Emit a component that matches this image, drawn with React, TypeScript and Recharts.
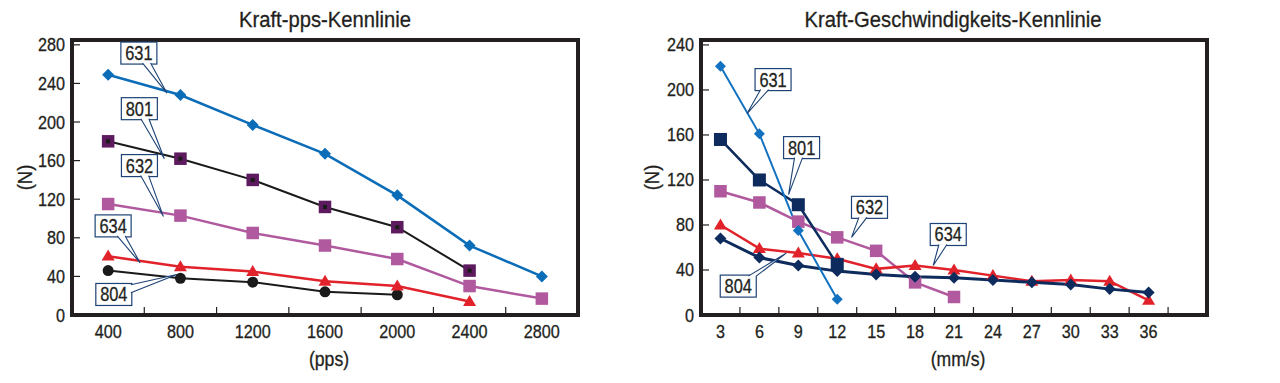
import React from 'react';
import { LineChart, Line, XAxis, YAxis, ReferenceArea, ReferenceDot } from 'recharts';

const FONT = "'Liberation Sans', Arial, sans-serif";
const INK = '#231f20';
const NAVY_BOX = '#1d4275';

// Kraft-pps-Kennlinie
const PPS = [400, 800, 1200, 1600, 2000, 2400, 2800];
const PPS_MINOR = [600, 1000, 1400, 1800, 2200, 2600];
const PPS_631 = [249, 228, 197, 167, 124, 72, 40];
const PPS_801 = [180, 162, 140, 112, 91, 46];
const PPS_632 = [115, 103, 85, 72, 58, 30, 17];
const PPS_634 = [61, 50, 45, 35, 30, 14];
const PPS_804 = [46, 38, 34, 24, 21];
const PPS_Y_TICKS = [0, 40, 80, 120, 160, 200, 240, 280];

// Kraft-Geschwindigkeits-Kennlinie
const SPEED = [3, 6, 9, 12, 15, 18, 21, 24, 27, 30, 33, 36];
const SPEED_MINOR = [4.5, 7.5, 10.5, 13.5, 16.5, 19.5, 22.5, 25.5, 28.5, 31.5, 34.5, 37.5];
const SPD_631 = [221, 161, 75, 14];
const SPD_801 = [156, 120, 98, 45];
const SPD_632 = [110, 100, 83, 69, 57, 29, 16];
const SPD_634 = [80, 59, 55, 50, 41, 44, 40, 35, 30, 31, 30, 13];
const SPD_804 = [68, 51, 44, 39, 36, 34, 33, 31, 29, 27, 23, 20];
const SPD_Y_TICKS = [0, 40, 80, 120, 160, 200, 240];

// callouts: tip in data units, box centre offset in px
const PPS_NOTES = [
  { text: '631', x: 725, y: 230, dx: -28, dy: -40 },
  { text: '801', x: 711, y: 162, dx: -25, dy: -50 },
  { text: '632', x: 706, y: 102, dx: -24, dy: -51 },
  { text: '634', x: 577, y: 54, dx: -27, dy: -37 },
  { text: '804', x: 780, y: 42, dx: -63, dy: 20 },
];
const SPD_NOTES = [
  { text: '631', x: 5.05, y: 179, dx: 26, dy: -34 },
  { text: '801', x: 8.25, y: 107, dx: 13, dy: -47 },
  { text: '632', x: 13.1, y: 69, dx: 18, dy: -30 },
  { text: '634', x: 19.4, y: 44, dx: 15, dy: -31 },
  { text: '804', x: 8.07, y: 55, dx: -48, dy: 33 },
];

const toRows = (xs: number[], series: Record<string, number[]>) =>
  xs.map((x, i) => {
    const row: any = { x };
    Object.keys(series).forEach((k) => {
      row[k] = series[k][i];
    });
    return row;
  });

const PPS_ROWS = toRows(PPS, { s631: PPS_631, s801: PPS_801, s632: PPS_632, s634: PPS_634, s804: PPS_804 });
const SPD_ROWS = toRows(SPEED, { s631: SPD_631, s801: SPD_801, s632: SPD_632, s634: SPD_634, s804: SPD_804 });

// condensed look: regular sans squeezed horizontally
const NText = ({ x, y, size, sx, anchor = 'middle', rotate = 0, children }: any) => (
  <text
    transform={`translate(${x} ${y})${rotate ? ` rotate(${rotate})` : ''} scale(${sx} 1)`}
    textAnchor={anchor}
    fontFamily={FONT}
    fontSize={size}
    fill={INK}
    stroke={INK}
    strokeWidth={0.3}
  >
    {children}
  </text>
);

// marker shapes
const ok = (p: any) => p.cx != null && p.cy != null && !isNaN(p.cx) && !isNaN(p.cy);

const diamond = (r: number, fill: string) => (p: any) =>
  ok(p) ? (
    <path key={p.index} d={`M${p.cx},${p.cy - r}L${p.cx + r},${p.cy}L${p.cx},${p.cy + r}L${p.cx - r},${p.cy}Z`} fill={fill} />
  ) : null;

const square = (s: number, fill: string, inner?: string) => (p: any) =>
  ok(p) ? (
    <g key={p.index}>
      <rect x={p.cx - s / 2} y={p.cy - s / 2} width={s} height={s} fill={fill} />
      {inner && <rect x={p.cx - 2} y={p.cy - 2} width={4} height={4} fill={inner} />}
    </g>
  ) : null;

const triangle = (w: number, h: number, fill: string) => (p: any) =>
  ok(p) ? (
    <path key={p.index} d={`M${p.cx},${p.cy - h * 0.6}L${p.cx + w / 2},${p.cy + h * 0.4}L${p.cx - w / 2},${p.cy + h * 0.4}Z`} fill={fill} />
  ) : null;

const circle = (r: number, fill: string) => (p: any) =>
  ok(p) ? <circle key={p.index} cx={p.cx} cy={p.cy} r={r} fill={fill} /> : null;

const callout = (note: any) => (p: any) => {
  const { cx, cy } = p;
  if (cx == null || cy == null) return <g />;
  const w = 36;
  const h = 22;
  const bx = cx + note.dx;
  const by = cy + note.dy;
  const vx = -note.dx;
  const vy = -note.dy;
  const tx = vx === 0 ? Infinity : w / 2 / Math.abs(vx);
  const ty = vy === 0 ? Infinity : h / 2 / Math.abs(vy);
  let b1, b2;
  if (tx < ty) {
    const ex = bx + Math.sign(vx) * (w / 2);
    const ey = Math.max(by - h / 2 + 4, Math.min(by + h / 2 - 4, by + tx * vy));
    b1 = [ex - Math.sign(vx), ey - 4];
    b2 = [ex - Math.sign(vx), ey + 4];
  } else {
    const ey = by + Math.sign(vy) * (h / 2);
    const ex = Math.max(bx - w / 2 + 4, Math.min(bx + w / 2 - 4, bx + ty * vx));
    b1 = [ex - 4, ey - Math.sign(vy)];
    b2 = [ex + 4, ey - Math.sign(vy)];
  }
  return (
    <g>
      <rect x={bx - w / 2} y={by - h / 2} width={w} height={h} fill="#fff" stroke={NAVY_BOX} strokeWidth={1.2} />
      <polygon points={`${b1[0]},${b1[1]} ${cx},${cy} ${b2[0]},${b2[1]}`} fill="#fff" />
      <polyline points={`${b1[0]},${b1[1]} ${cx},${cy} ${b2[0]},${b2[1]}`} fill="none" stroke={NAVY_BOX} strokeWidth={1.1} />
      <NText x={bx} y={by + 7} size={20} sx={0.82}>
        {note.text}
      </NText>
    </g>
  );
};

const XTick = (labels: number[]) => (p: any) => {
  const { x, y, payload } = p;
  if (labels.includes(payload.value)) {
    return (
      <NText x={x} y={y + 23} size={18} sx={0.9}>
        {payload.value}
      </NText>
    );
  }
  return <line x1={x} x2={x} y1={y} y2={y - 8} stroke={INK} strokeWidth={1.2} />;
};

const YTick = (p: any) => {
  const { x, y, payload } = p;
  return (
    <g>
      <NText x={x - 7} y={y + 6.5} size={18} sx={0.9} anchor="end">
        {payload.value}
      </NText>
      {payload.value !== 0 && <line x1={x} x2={x + 8} y1={y} y2={y} stroke={INK} strokeWidth={1.2} />}
    </g>
  );
};

type SeriesDef = { key: string; color: string; width: number; dot: any };

type PanelProps = {
  rows: any[];
  series: SeriesDef[];
  xLabels: number[];
  xMinor: number[];
  xDomain: [number, number];
  yTicks: number[];
  yDomain: [number, number];
  notes: any[];
  xTitle: string;
  yTitleX: number;
  yAxisWidth: number;
  marginRight: number;
};

const Panel = (props: PanelProps) => {
  const { rows, series, xLabels, xMinor, xDomain, yTicks, yDomain, notes, xTitle, yTitleX, yAxisWidth, marginRight } = props;
  const xTicks = [...xLabels, ...xMinor].sort((a, b) => a - b);
  return (
    <LineChart width={640} height={383} data={rows} margin={{ top: 40, right: marginRight, bottom: 15, left: 0 }}>
      <XAxis
        type="number"
        dataKey="x"
        domain={xDomain}
        ticks={xTicks}
        interval={0}
        axisLine={false}
        tickLine={false}
        tickSize={0}
        tickMargin={0}
        height={53}
        tick={XTick(xLabels)}
        label={{
          content: ({ viewBox }: any) => (
            <NText x={viewBox.x + viewBox.width / 2 + 4} y={366} size={20} sx={0.88}>
              {xTitle}
            </NText>
          ),
        }}
      />
      <YAxis
        type="number"
        domain={yDomain}
        ticks={yTicks}
        interval={0}
        axisLine={false}
        tickLine={false}
        tickSize={0}
        tickMargin={0}
        width={yAxisWidth}
        tick={YTick}
        label={{
          content: ({ viewBox }: any) => (
            <NText x={yTitleX + 7} y={viewBox.y + viewBox.height / 2} size={21} sx={0.88} rotate={-90}>
              (N)
            </NText>
          ),
        }}
      />
      {series.map((s) => (
        <Line
          key={s.key}
          dataKey={s.key}
          stroke={s.color}
          strokeWidth={s.width}
          dot={s.dot}
          activeDot={false}
          isAnimationActive={false}
        />
      ))}
      <ReferenceArea
        x1={xDomain[0]}
        x2={xDomain[1]}
        y1={yDomain[0]}
        y2={yDomain[1]}
        fill="none"
        stroke={INK}
        strokeWidth={4}
        ifOverflow="visible"
      />
      {notes.map((n) => (
        <ReferenceDot key={n.text} x={n.x} y={n.y} r={0} ifOverflow="visible" shape={callout(n)} />
      ))}
    </LineChart>
  );
};

const PPS_SERIES: SeriesDef[] = [
  { key: 's804', color: '#1a1a1a', width: 2, dot: circle(5.5, '#1a1a1a') },
  { key: 's634', color: '#e1222b', width: 2.5, dot: triangle(13, 11, '#e1222b') },
  { key: 's632', color: '#b0599e', width: 2.5, dot: square(12.5, '#b0599e') },
  { key: 's801', color: '#1a1a1a', width: 2, dot: square(12.5, '#5d1a5f', '#1a1a1a') },
  { key: 's631', color: '#0b6cb8', width: 2.5, dot: diamond(6, '#0b6cb8') },
];

const SPD_SERIES: SeriesDef[] = [
  { key: 's632', color: '#b0599e', width: 2.5, dot: square(12.5, '#b0599e') },
  { key: 's634', color: '#e1222b', width: 2.5, dot: triangle(13, 11, '#e1222b') },
  { key: 's804', color: '#0d2b5c', width: 3, dot: diamond(6, '#0d2b5c') },
  { key: 's801', color: '#0d2b5c', width: 2.5, dot: square(13, '#0d2b5c') },
  { key: 's631', color: '#1272c0', width: 2, dot: diamond(5.5, '#1272c0') },
];

export default function App() {
  return (
    <div style={{ position: 'absolute', left: 0, top: 0, width: 1280, height: 383, background: '#fff', display: 'flex' }}>
      <Panel
        rows={PPS_ROWS}
        series={PPS_SERIES}
        xLabels={PPS}
        xMinor={PPS_MINOR}
        xDomain={[200, 3000]}
        yTicks={PPS_Y_TICKS}
        yDomain={[0, 285]}
        notes={PPS_NOTES}
        xTitle="(pps)"
        yTitleX={25}
        yAxisWidth={72}
        marginRight={62}
      />
      <Panel
        rows={SPD_ROWS}
        series={SPD_SERIES}
        xLabels={SPEED}
        xMinor={SPEED_MINOR}
        xDomain={[1.5, 40.5]}
        yTicks={SPD_Y_TICKS}
        yDomain={[0, 244.4]}
        notes={SPD_NOTES}
        xTitle="(mm/s)"
        yTitleX={12}
        yAxisWidth={61}
        marginRight={73}
      />
      <svg width={1280} height={383} style={{ position: 'absolute', left: 0, top: 0, pointerEvents: 'none' }}>
        <NText x={325} y={27} size={22} sx={0.92}>
          Kraft-pps-Kennlinie
        </NText>
        <NText x={953} y={27} size={22} sx={0.92}>
          Kraft-Geschwindigkeits-Kennlinie
        </NText>
      </svg>
    </div>
  );
}
